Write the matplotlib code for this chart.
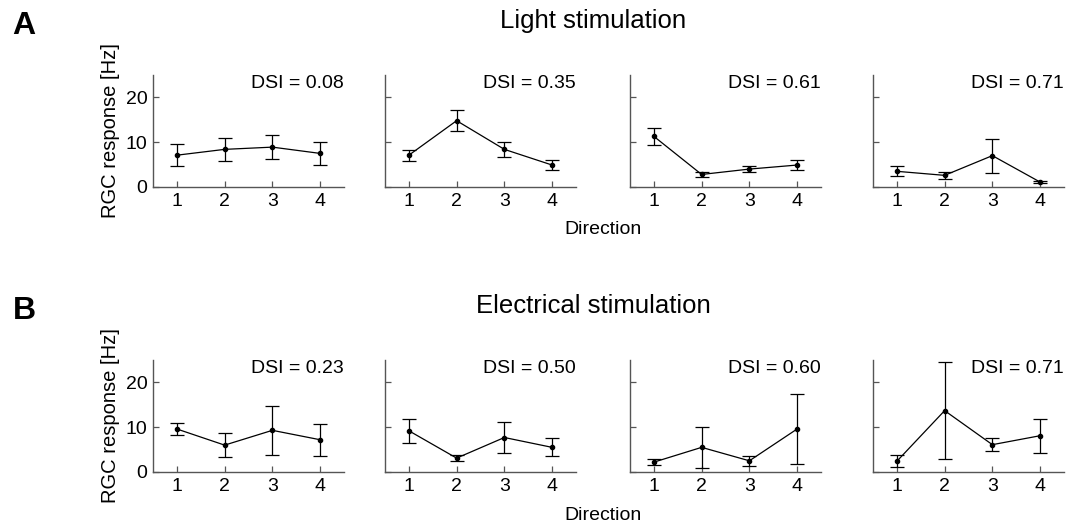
import numpy as np
import matplotlib
matplotlib.use("Agg")
import matplotlib.pyplot as plt

plt.rcParams['font.family'] = ['Liberation Sans', 'DejaVu Sans']

directions = [1, 2, 3, 4]

# row A: light stimulation
light_mean = [[7.1, 8.4, 8.9, 7.5],
              [7.1, 14.8, 8.4, 4.9],
              [11.3, 2.8, 4.0, 4.9],
              [3.5, 2.6, 7.0, 1.1]]
light_err = [[2.5, 2.5, 2.7, 2.5],
             [1.25, 2.4, 1.75, 1.2],
             [1.95, 0.5, 0.75, 1.2],
             [1.15, 0.8, 3.8, 0.2]]
light_dsi = ["0.08", "0.35", "0.61", "0.71"]

# row B: electrical stimulation
elec_mean = [[9.6, 6.0, 9.3, 7.2],
             [9.2, 3.1, 7.7, 5.5],
             [2.2, 5.5, 2.5, 9.6],
             [2.4, 13.7, 6.1, 8.1]]
elec_err = [[1.4, 2.7, 5.45, 3.6],
            [2.7, 0.65, 3.4, 2.0],
            [0.6, 4.55, 1.05, 7.75],
            [1.3, 10.9, 1.5, 3.8]]
elec_dsi = ["0.23", "0.50", "0.60", "0.71"]

W, H = 1072, 523
fig = plt.figure(figsize=(W / 100, H / 100), dpi=100)

x_left = [153, 385, 630, 873]
ax_w = 191
rows = [(75, 187, light_mean, light_err, light_dsi, "Light stimulation", "A"),
        (360, 472, elec_mean, elec_err, elec_dsi, "Electrical stimulation", "B")]

for top, bottom, means, errs, dsis, title, letter in rows:
    for i in range(4):
        ax = fig.add_axes([x_left[i] / W, 1 - bottom / H, ax_w / W, (bottom - top) / H])
        ax.errorbar(directions, means[i], yerr=errs[i], color='black', lw=0.9,
                    marker='o', ms=3, capsize=5, elinewidth=0.9, capthick=0.9)
        ax.set_xlim(0.5, 4.5)
        ax.set_ylim(0, 25)
        ax.set_xticks(directions)
        ax.set_yticks([0, 10, 20])
        for s in ['top', 'right']:
            ax.spines[s].set_visible(False)
        for s in ['left', 'bottom']:
            ax.spines[s].set_color('#555555')
            ax.spines[s].set_linewidth(1.0)
        ax.tick_params(direction='in', length=4, width=0.9, color='#555555',
                       labelsize=14, pad=4)
        if i == 0:
            ax.set_ylabel("RGC response [Hz]", fontsize=14.5, labelpad=4)
        else:
            ax.set_yticklabels([])
        ax.text(1.0, 1.0, "DSI = " + dsis[i], transform=ax.transAxes,
                ha='right', va='top', fontsize=14)
    fig.text(593 / W, 1 - (top - 54) / H, title, ha='center', va='center', fontsize=18.5)
    fig.text(24 / W, 1 - (top - 49) / H, letter, ha='center', va='center',
             fontsize=23, fontweight='bold')
    fig.text(603 / W, 1 - (bottom + 43) / H, "Direction", ha='center', va='center', fontsize=14)

fig.savefig("out.png", dpi=100)
